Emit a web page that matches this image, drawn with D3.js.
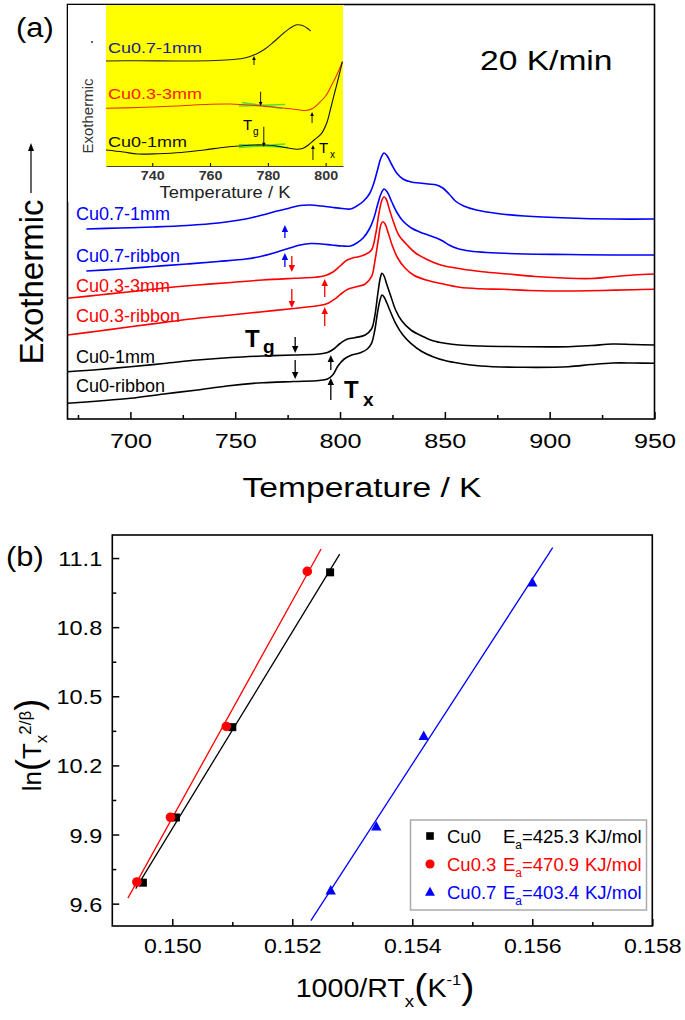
<!DOCTYPE html>
<html><head><meta charset="utf-8">
<script src="https://cdn.jsdelivr.net/npm/d3@7/dist/d3.min.js"></script>
<style>
body{margin:0;background:#fff}
svg{display:block}
text{font-family:"Liberation Sans",Arial,sans-serif}
</style>
</head><body>
<svg id="c" width="685" height="1020"></svg>
<script>
// ---------------- Panel (a) data ----------------
const tempTicks = [700, 750, 800, 850, 900, 950];
const tempMinor = [675, 725, 775, 825, 875, 925];
const dscNames = ["Cu0.7-1mm", "Cu0.7-ribbon", "Cu0.3-3mm", "Cu0.3-ribbon", "Cu0-1mm", "Cu0-ribbon"];
const dscColors = ["#0000ff", "#0000ff", "#ff0000", "#ff0000", "#000000", "#000000"];
// [temperature K, heat-flow signal (arb. units)]
const cu07_1mm = [[679,190],[695,191],[711,192],[727,193.5],[742,196],[755,200],[763,204],[770,208],[776,211],[781,213.5],[786,214],[791,213],[796,211.7],[801,210.5],[805,210],[808,213],[811,217.5],[814,225],[816,235],[818,250],[819.5,261],[821,266],[822.5,263],[824.5,255],[827,246],[830,240],[834,237],[838,236],[842,235],[846,234],[849,231],[852,225],[855,218],[859,213],[865,209],[875,205.5],[888,203],[909,201],[930,200],[950,200]];
const cu07_ribbon = [[679,148],[695,150],[711,152.5],[727,155],[742,157.5],[755,160],[763,163],[770,167],[776,171],[781,174],[786,175.5],[791,175],[796,174],[801,173],[805,173],[808,176],[811,181],[814,190],[816,200],[818,215],[819.5,225],[821,230],[822.5,227],[824.5,218],[827,207],[830,198],[834,191],[838,187],[842,184],[846,181],[849,178],[852,174],[856,170.5],[862,168],[870,166.5],[888,165],[909,164.5],[930,164],[950,164]];
const cu03_3mm = [[670,120.7],[685,124],[700,127.3],[716,131],[732,134],[748,136.5],[763,139],[778,140.7],[788,141.7],[793,143.5],[797,147.5],[800,153],[803,158.5],[806,161],[809,162.3],[812,164.5],[815,169],[817,185],[818.5,205],[820,219],[821,222.3],[822,220],[823.5,210],[825.5,197],[828,184],[832,174],[836,166],[842,159],[848,154],[858,150],[868,147.3],[880,145],[893,142.5],[909,140.7],[920,140.5],[930,142.3],[940,144],[950,145]];
const cu03_ribbon = [[670,84],[685,88],[700,92.3],[716,96.5],[732,100.7],[748,104],[763,107.3],[778,110.5],[790,113.5],[794,115.5],[798,120.7],[801,126],[804,130],[808,132.3],[812,135],[815,142.3],[816.8,160],[818.3,180],[819.6,195],[820.5,197.3],[821.5,195],[823,186],[825,173],[827.5,161],[831,151],[835,144],[841,139],[848,135.5],[857,131.7],[867,130.2],[878,129.7],[890,128.5],[900,128],[912,128],[925,128.5],[940,129.3],[950,129.7]];
const cu0_1mm = [[670,47.3],[685,49.5],[700,52.3],[716,55.5],[732,59],[748,61.5],[763,63],[778,64],[790,65],[794,66.5],[797,70],[800,75.5],[803,79.5],[807,81.3],[812,84],[815,90],[816.5,102],[818,125],[819.2,141],[820,145.7],[821,143],[822.4,134],[824.5,121],[826.5,109],[829.5,98],[833.8,89],[839,83],[844.3,78.3],[850,75.8],[856.8,74],[867,73],[888,72.3],[909,72.3],[920,73.5],[930,75],[940,74.5],[950,74]];
const cu0_ribbon = [[670,15.7],[685,18],[700,20.7],[716,25],[732,29],[746,33],[763,36.3],[778,37.5],[790,38.5],[794,40],[796.5,44],[799,53],[802,60],[805,63.5],[810,66.5],[813,70],[815,75.7],[816.5,88],[818,108],[819.2,120],[820,124],[821,122],[822.4,115.7],[824.5,105],[826.5,95.7],[830,84],[833.8,75.7],[839,67.5],[844.3,62.3],[850,58.5],[856.8,55.7],[867,53],[888,51.7],[909,52.3],[920,54.5],[930,56],[940,56],[950,55.7]];
const dscCurves = [cu07_1mm, cu07_ribbon, cu03_3mm, cu03_ribbon, cu0_1mm, cu0_ribbon];
// Tg / Tx markers: [T, signal from, signal to]
const tgArrows = [[773.7,181,194,"#0000ff"],[773.7,152,166,"#0000ff"],[777,163,147,"#ff0000"],[777,130,111,"#ff0000"],[778.6,82,66,"#000"],[778.6,59,40,"#000"]];
const txArrows = [[792.7,122,140,"#ff0000"],[792.7,93,112,"#ff0000"],[795.6,49,64,"#000"],[795.6,19,41,"#000"]];

// inset data
const insetTicks = [740, 760, 780, 800];
const insetNames = ["Cu0.7-1mm", "Cu0.3-3mm", "Cu0-1mm"];
const insetLabelColors = ["#1c1c8c", "#ff2000", "#111"];
const inCu07 = [[724,105],[735,105.3],[750,105],[762,105.5],[768,106.5],[772,108],[776,112],[779,117],[782,124],[785.5,133],[788,138.5],[790,141.2],[792,140.5],[794,137],[794.8,135]];
const inCu03 = [[724,57.7],[735,58.5],[748,60],[760,61.8],[767,62],[775,60.7],[781,59.2],[786,57.7],[790,56.5],[793,55.5],[795.5,57.5],[797.6,62.7],[800,70],[802.1,81],[804,92],[805.8,104.3]];
const inCu0 = [[724,16],[730,14],[735,12],[742,12.3],[750,13.5],[758,16],[765,18.8],[770,20],[775,21],[779,21],[783,20],[787,18],[790,16.7],[792,17.5],[794,21],[796,26],[798.6,32.7],[800.5,44],[801.6,56],[803,72],[804.5,89],[805.8,104.3]];
const insetCurves = [inCu07, inCu03, inCu0];
const insetCurveColors = ["#222", "#e83010", "#111"];
const insetArrows = [[775.2,101,110],[777.5,74.3,60],[795.3,43,54],[778.6,39.3,19.3],[795.6,6,21]];
const insetTangents = [[[771,63.5],[785,57.5]],[[770,60],[786,61.5]],[[770,21.5],[787,18.5]],[[770,18.5],[786,22]]];

// ---------------- Panel (b) data ----------------
const bXTicks = [0.150, 0.152, 0.154, 0.156, 0.158];
const bXMinor = [0.151, 0.153, 0.155, 0.157];
const bYTicks = [9.6, 9.9, 10.2, 10.5, 10.8, 11.1];
const bYMinor = [9.75, 10.05, 10.35, 10.65, 10.95];
const seriesNames = ["Cu0", "Cu0.3", "Cu0.7"];
const seriesColors = ["#000000", "#ff0000", "#0000ff"];
const eaValues = ["425.3", "470.9", "403.4"];
const cu0X = [0.14951, 0.15006, 0.15100, 0.15263];
const cu0Y = [9.691, 9.974, 10.366, 11.038];
const cu03X = [0.14941, 0.14997, 0.15090, 0.15225];
const cu03Y = [9.694, 9.975, 10.369, 11.042];
const cu07X = [0.15264, 0.15340, 0.15419, 0.15600];
const cu07Y = [9.657, 9.935, 10.328, 10.994];
const fitRanges = [[0.14939, 0.15279], [0.14926, 0.15248], [0.15231, 0.15634]];

// ---------------- drawing ----------------
const svg = d3.select("#c");
const FONT = '"Liberation Sans",Arial,sans-serif';

function stext(parent, x, y, str, size, opt = {}) {
  const t = parent.append("text")
    .attr("transform", `translate(${x},${y}) scale(${opt.sx || 1},1)`)
    .attr("font-size", size)
    .attr("fill", opt.fill || "#000")
    .attr("text-anchor", opt.anchor || "start")
    .attr("font-weight", opt.bold ? "bold" : null)
    .text(str);
  return t;
}
function arrow(parent, x, y1, y2, color, head = 6, w = 3, sw = 1.2) {
  const dir = y2 > y1 ? 1 : -1;
  parent.append("line").attr("x1", x).attr("x2", x).attr("y1", y1).attr("y2", y2 - dir * head * 0.6)
    .attr("stroke", color).attr("stroke-width", sw);
  parent.append("path").attr("d", `M${x - w},${y2 - dir * head} L${x + w},${y2 - dir * head} L${x},${y2} Z`).attr("fill", color);
}

// ===== Panel (a) =====
const xA = d3.scaleLinear().domain([670, 950]).range([67.5, 654.5]);
const yA = d3.scaleLinear().domain([0, 415]).range([419, 4]);
const gA = svg.append("g");

const lineA = d3.line().x(d => xA(d[0])).y(d => yA(d[1])).curve(d3.curveCatmullRom.alpha(0.5));
dscCurves.forEach((c, i) => {
  gA.append("path").attr("d", lineA(c)).attr("fill", "none").attr("stroke", dscColors[i]).attr("stroke-width", 1.6);
});
tgArrows.concat(txArrows).forEach(a => arrow(gA, xA(a[0]), yA(a[1]), yA(a[2]), a[3], 7, 3.2, 1.3));

// bottom axis
const axA = d3.axisBottom(xA).tickValues(tempTicks).tickSize(-7).tickSizeOuter(0).tickFormat(d3.format("d"));
const gAx = gA.append("g").attr("transform", "translate(0,419)").call(axA);
gAx.select(".domain").remove();
gAx.selectAll("line").attr("stroke-width", 1.5);
gAx.selectAll("text").attr("y", 29).attr("dy", null).attr("font-size", 21).attr("font-family", FONT)
  .attr("transform", "scale(1.2,1)");
const axAm = d3.axisBottom(xA).tickValues(tempMinor).tickSize(-4).tickSizeOuter(0).tickFormat("");
const gAxm = gA.append("g").attr("transform", "translate(0,419)").call(axAm);
gAxm.select(".domain").remove();
gAxm.selectAll("line").attr("stroke-width", 1.5);

// curve labels
const labY = [220, 262, 292, 322, 363, 392];
dscNames.forEach((n, i) => stext(gA, 76, labY[i], n, 18, { fill: dscColors[i] }));

// Tg, Tx
stext(gA, 245, 347, "T", 24, { bold: true });
stext(gA, 263, 353, "g", 19, { bold: true });
stext(gA, 344, 398, "T", 24, { bold: true });
stext(gA, 363, 406, "x", 19, { bold: true });

// 20 K/min
stext(gA, 480, 70, "20 K/min", 28, { sx: 1.2 });
// (a)
stext(svg, 16, 37, "(a)", 28, { sx: 1.1 });

// y-axis label "Exothermic" with arrow
svg.append("text").attr("transform", "translate(43,282) rotate(-90)").attr("text-anchor", "middle")
  .attr("font-size", 33).text("Exothermic");
arrow(svg, 31, 193, 143, "#000", 8, 3, 1.2);

// ----- inset -----
const gI = svg.append("g");
gI.append("rect").attr("x", 68).attr("y", 5).attr("width", 276).attr("height", 197).attr("fill", "#fff");
gI.append("rect").attr("x", 106).attr("y", 5).attr("width", 237).attr("height", 161).attr("fill", "#ffff00");
const xI = d3.scaleLinear().domain([724, 806]).range([106, 343]);
const yI = d3.scaleLinear().domain([0, 162]).range([166, 4]);
const lineI = d3.line().x(d => xI(d[0])).y(d => yI(d[1])).curve(d3.curveCatmullRom.alpha(0.5));
insetTangents.forEach(t => {
  gI.append("line").attr("x1", xI(t[0][0])).attr("y1", yI(t[0][1])).attr("x2", xI(t[1][0])).attr("y2", yI(t[1][1]))
    .attr("stroke", "#55dd33").attr("stroke-width", 1.6);
});
insetCurves.forEach((c, i) => {
  gI.append("path").attr("d", lineI(c)).attr("fill", "none").attr("stroke", insetCurveColors[i]).attr("stroke-width", 1.1);
});
insetArrows.forEach(a => arrow(gI, xI(a[0]), yI(a[1]), yI(a[2]), "#000", 4, 1.8, 0.9));
const axI = d3.axisBottom(xI).tickValues(insetTicks).tickSize(-3).tickSizeOuter(0).tickFormat(d3.format("d"));
const gIx = gI.append("g").attr("transform", "translate(0,166)").call(axI);
gIx.select(".domain").attr("stroke", "#444");
gIx.selectAll("text").attr("y", 14).attr("dy", null).attr("font-size", 13).attr("font-weight", "bold")
  .attr("fill", "#333").attr("font-family", FONT).attr("transform", "scale(1.1,1)");
stext(gI, 225, 198, "Temperature / K", 16, { anchor: "middle", sx: 1.15, fill: "#222" });
gI.append("text").attr("transform", "translate(93,116) rotate(-90)").attr("text-anchor", "middle")
  .attr("font-size", 15).attr("fill", "#333").text("Exothermic");
gI.append("circle").attr("cx", 92).attr("cy", 42).attr("r", 1).attr("fill", "#333");
const inLabY = [53, 99, 147];
insetNames.forEach((n, i) => stext(gI, 108, inLabY[i], n, 15, { sx: 1.2, fill: insetLabelColors[i] }));
stext(gI, 243, 130, "T", 15, {});
stext(gI, 253, 135, "g", 10, {});
stext(gI, 319, 153, "T", 15, {});
stext(gI, 330, 158, "x", 10, {});

// frame (a)
gA.append("rect").attr("x", 67.5).attr("y", 4.5).attr("width", 587).attr("height", 414.5)
  .attr("fill", "none").attr("stroke", "#000").attr("stroke-width", 1.6);

// x title
stext(svg, 362, 497, "Temperature / K", 28, { anchor: "middle", sx: 1.2 });

// ===== Panel (b) =====
const xB = d3.scaleLinear().domain([0.149, 0.158]).range([112.3, 652.3]);
const yB = d3.scaleLinear().domain([9.503, 11.2]).range([926, 535]);
const gB = svg.append("g");

const bData = [[cu0X, cu0Y], [cu03X, cu03Y], [cu07X, cu07Y]];
bData.forEach((s, i) => {
  const X = s[0], Y = s[1];
  const mx = d3.mean(X), my = d3.mean(Y);
  const slope = d3.sum(X.map((x, k) => (x - mx) * (Y[k] - my))) / d3.sum(X.map(x => (x - mx) ** 2));
  const b0 = my - slope * mx;
  const r = fitRanges[i];
  gB.append("line").attr("x1", xB(r[0])).attr("y1", yB(b0 + slope * r[0]))
    .attr("x2", xB(r[1])).attr("y2", yB(b0 + slope * r[1]))
    .attr("stroke", seriesColors[i]).attr("stroke-width", 1.3);
});
function marker(g, i, cx, cy, s) {
  if (i === 0) g.append("rect").attr("x", cx - s).attr("y", cy - s).attr("width", 2 * s).attr("height", 2 * s).attr("fill", seriesColors[i]);
  else if (i === 1) g.append("circle").attr("cx", cx).attr("cy", cy).attr("r", s * 1.2).attr("fill", seriesColors[i]);
  else g.append("path").attr("d", `M${cx},${cy - s * 1.35} L${cx + s * 1.3},${cy + s} L${cx - s * 1.3},${cy + s} Z`).attr("fill", seriesColors[i]);
}
bData.forEach((s, i) => {
  s[0].forEach((x, k) => marker(gB, i, xB(x), yB(s[1][k]), 4));
});

// axes
const axBx = d3.axisBottom(xB).tickValues(bXTicks).tickSize(-7).tickSizeOuter(0).tickFormat(d3.format(".3f"));
const gBx = gB.append("g").attr("transform", "translate(0,926)").call(axBx);
gBx.select(".domain").remove();
gBx.selectAll("line").attr("stroke-width", 1.5);
gBx.selectAll("text").attr("y", 27).attr("dy", null).attr("font-size", 21).attr("font-family", FONT).attr("transform", "scale(1.1,1)");
const gBxm = gB.append("g").attr("transform", "translate(0,926)").call(d3.axisBottom(xB).tickValues(bXMinor).tickSize(-4).tickSizeOuter(0).tickFormat(""));
gBxm.select(".domain").remove();
gBxm.selectAll("line").attr("stroke-width", 1.5);

const axBy = d3.axisLeft(yB).tickValues(bYTicks).tickSize(-7).tickSizeOuter(0).tickFormat(d3.format(".1f"));
const gBy = gB.append("g").attr("transform", "translate(112.3,0)").call(axBy);
gBy.select(".domain").remove();
gBy.selectAll("line").attr("stroke-width", 1.5);
gBy.selectAll("text").attr("x", -9).attr("dy", "0.36em").attr("font-size", 21).attr("font-family", FONT).attr("transform", "scale(1.12,1)");
const gBym = gB.append("g").attr("transform", "translate(112.3,0)").call(d3.axisLeft(yB).tickValues(bYMinor).tickSize(-4).tickSizeOuter(0).tickFormat(""));
gBym.select(".domain").remove();
gBym.selectAll("line").attr("stroke-width", 1.5);

// legend
const lg = gB.append("g");
lg.append("rect").attr("x", 410.5).attr("y", 820).attr("width", 236).attr("height", 90)
  .attr("fill", "#fff").attr("stroke", "#aaa").attr("stroke-width", 1.5);
const legY = [836, 864, 892];
seriesNames.forEach((n, i) => {
  marker(lg, i, 430, legY[i], 3.8);
  const t = lg.append("text").attr("x", 447).attr("y", legY[i] + 6.5).attr("font-size", 18.5).attr("fill", seriesColors[i]);
  t.append("tspan").text(n);
  t.append("tspan").attr("x", 503).text("E");
  t.append("tspan").attr("font-size", 12).attr("dy", 6).text("a");
  t.append("tspan").attr("dy", -6).text("=" + eaValues[i]);
  t.append("tspan").attr("x", 585).text("KJ/mol");
});

// frame (b)
gB.append("rect").attr("x", 112.3).attr("y", 535).attr("width", 540).attr("height", 391)
  .attr("fill", "none").attr("stroke", "#000").attr("stroke-width", 1.6);

// (b)
stext(svg, 6, 566, "(b)", 28, { sx: 1.1 });

// y label ln(Tx^2/β)
const yl = svg.append("text").attr("transform", "translate(41,745) rotate(-90)").attr("text-anchor", "middle").attr("font-size", 26);
yl.append("tspan").text("ln");
yl.append("tspan").attr("font-size", 36).attr("dy", 1).text("(");
yl.append("tspan").attr("dy", -1).text("T");
yl.append("tspan").attr("font-size", 17).attr("dy", 6).text("x");
yl.append("tspan").attr("font-size", 17).attr("dy", -16).text("2");
yl.append("tspan").attr("font-size", 17).text("/β");
yl.append("tspan").attr("font-size", 36).attr("dy", 10).text(")");

// x label 1000/RTx (K^-1)
const xl = svg.append("text").attr("transform", "translate(385,997) scale(1.1,1)").attr("text-anchor", "middle").attr("font-size", 26);
xl.append("tspan").text("1000/RT");
xl.append("tspan").attr("font-size", 17).attr("dy", 10).text("x");
xl.append("tspan").attr("font-size", 36).attr("dy", -8).text("(");
xl.append("tspan").attr("dy", -2).text("K");
xl.append("tspan").attr("font-size", 15).attr("dy", -12).text("-1");
xl.append("tspan").attr("font-size", 36).attr("dy", 14).text(")");
</script>
</body></html>
